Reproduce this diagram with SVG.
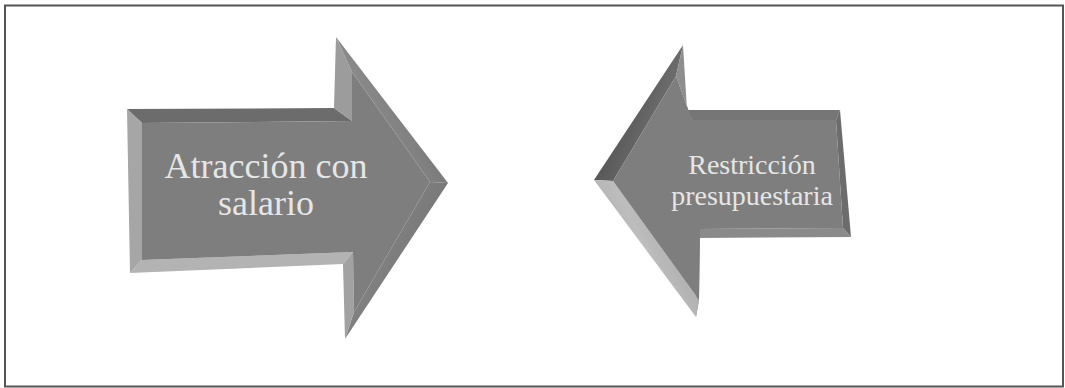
<svg xmlns="http://www.w3.org/2000/svg" width="1065" height="388" viewBox="0 0 1065 388">
  <defs>
    <style>
      .label { font-family: "Liberation Serif", "DejaVu Serif", serif; fill: #e6e6e6; text-anchor: middle; }
      .face { fill: #7e7e7e; }
      .edge { stroke: none; }
    </style>
    <linearGradient id="upperFrontL" x1="0" y1="0" x2="1" y2="-0.6">
      <stop offset="0" stop-color="#8a8a8a"/>
      <stop offset="0.6" stop-color="#6a6a6a"/>
      <stop offset="1" stop-color="#555555"/>
    </linearGradient>
    <linearGradient id="lowerFrontL" x1="0" y1="0" x2="1" y2="0.6">
      <stop offset="0" stop-color="#8c8c8c"/>
      <stop offset="1" stop-color="#727272"/>
    </linearGradient>
    <linearGradient id="upperFrontR" x1="1" y1="0" x2="0" y2="-0.6">
      <stop offset="0" stop-color="#6a6a6a"/>
      <stop offset="0.5" stop-color="#4a4a4a"/>
      <stop offset="1" stop-color="#5a5a5a"/>
    </linearGradient>
    <linearGradient id="lowerFrontR" x1="1" y1="0" x2="0" y2="0.6">
      <stop offset="0" stop-color="#9a9a9a"/>
      <stop offset="0.6" stop-color="#bdbdbd"/>
      <stop offset="1" stop-color="#a8a8a8"/>
    </linearGradient>
  </defs>

  <!-- outer frame -->
  <rect x="5" y="5.5" width="1058" height="381" fill="#ffffff" stroke="#555555" stroke-width="2"/>

  <!-- right-pointing arrow -->
  <g id="node-attraction">
    <polygon class="edge" fill="#6c6c6c" points="127,109 334,108 352,121 142,123"/>
    <polygon class="edge" fill="#a6a6a6" points="127,109 142,123 142,260 130,273"/>
    <polygon class="edge" fill="#b3b3b3" points="130,273 142,260 353,252 343,264"/>
    <polygon class="edge" fill="#9c9c9c" points="334,108 336,37 352,72 352,121"/>
    <polygon class="edge" fill="url(#upperFrontL)" points="336,37 448,183 430,182 352,72"/>
    <polygon class="edge" fill="url(#lowerFrontL)" points="448,183 345,339 354,312 430,182"/>
    <polygon class="edge" fill="#a2a2a2" points="345,339 343,264 353,252 354,312"/>
    <polygon class="face" points="142,123 352,121 352,72 430,182 354,312 353,252 142,260"/>
    <text class="label" font-size="36" x="266" y="178">Atracción con</text>
    <text class="label" font-size="36" x="266" y="215">salario</text>
  </g>

  <!-- left-pointing arrow -->
  <g id="node-restriction">
    <polygon class="edge" fill="url(#upperFrontR)" points="594,180 683,45 676,76 613,181"/>
    <polygon class="edge" fill="#8e8e8e" points="683,45 687,110 692,120 676,76"/>
    <polygon class="edge" fill="#767676" points="687,110 840,110 836,120 692,120"/>
    <polygon class="edge" fill="#6c6c6c" points="840,110 851,237 843,228 836,120"/>
    <polygon class="edge" fill="#8a8a8a" points="851,237 696,238 700,229 843,228"/>
    <polygon class="edge" fill="#8c8c8c" points="696,238 696,317 699,300 700,229"/>
    <polygon class="edge" fill="url(#lowerFrontR)" points="696,317 594,180 613,181 699,300"/>
    <polygon class="face" points="613,181 676,76 692,120 836,120 843,228 700,229 699,300"/>
    <text class="label" font-size="28" x="752" y="174">Restricción</text>
    <text class="label" font-size="28" x="752" y="205">presupuestaria</text>
  </g>

  <g id="connectors"/>
</svg>
